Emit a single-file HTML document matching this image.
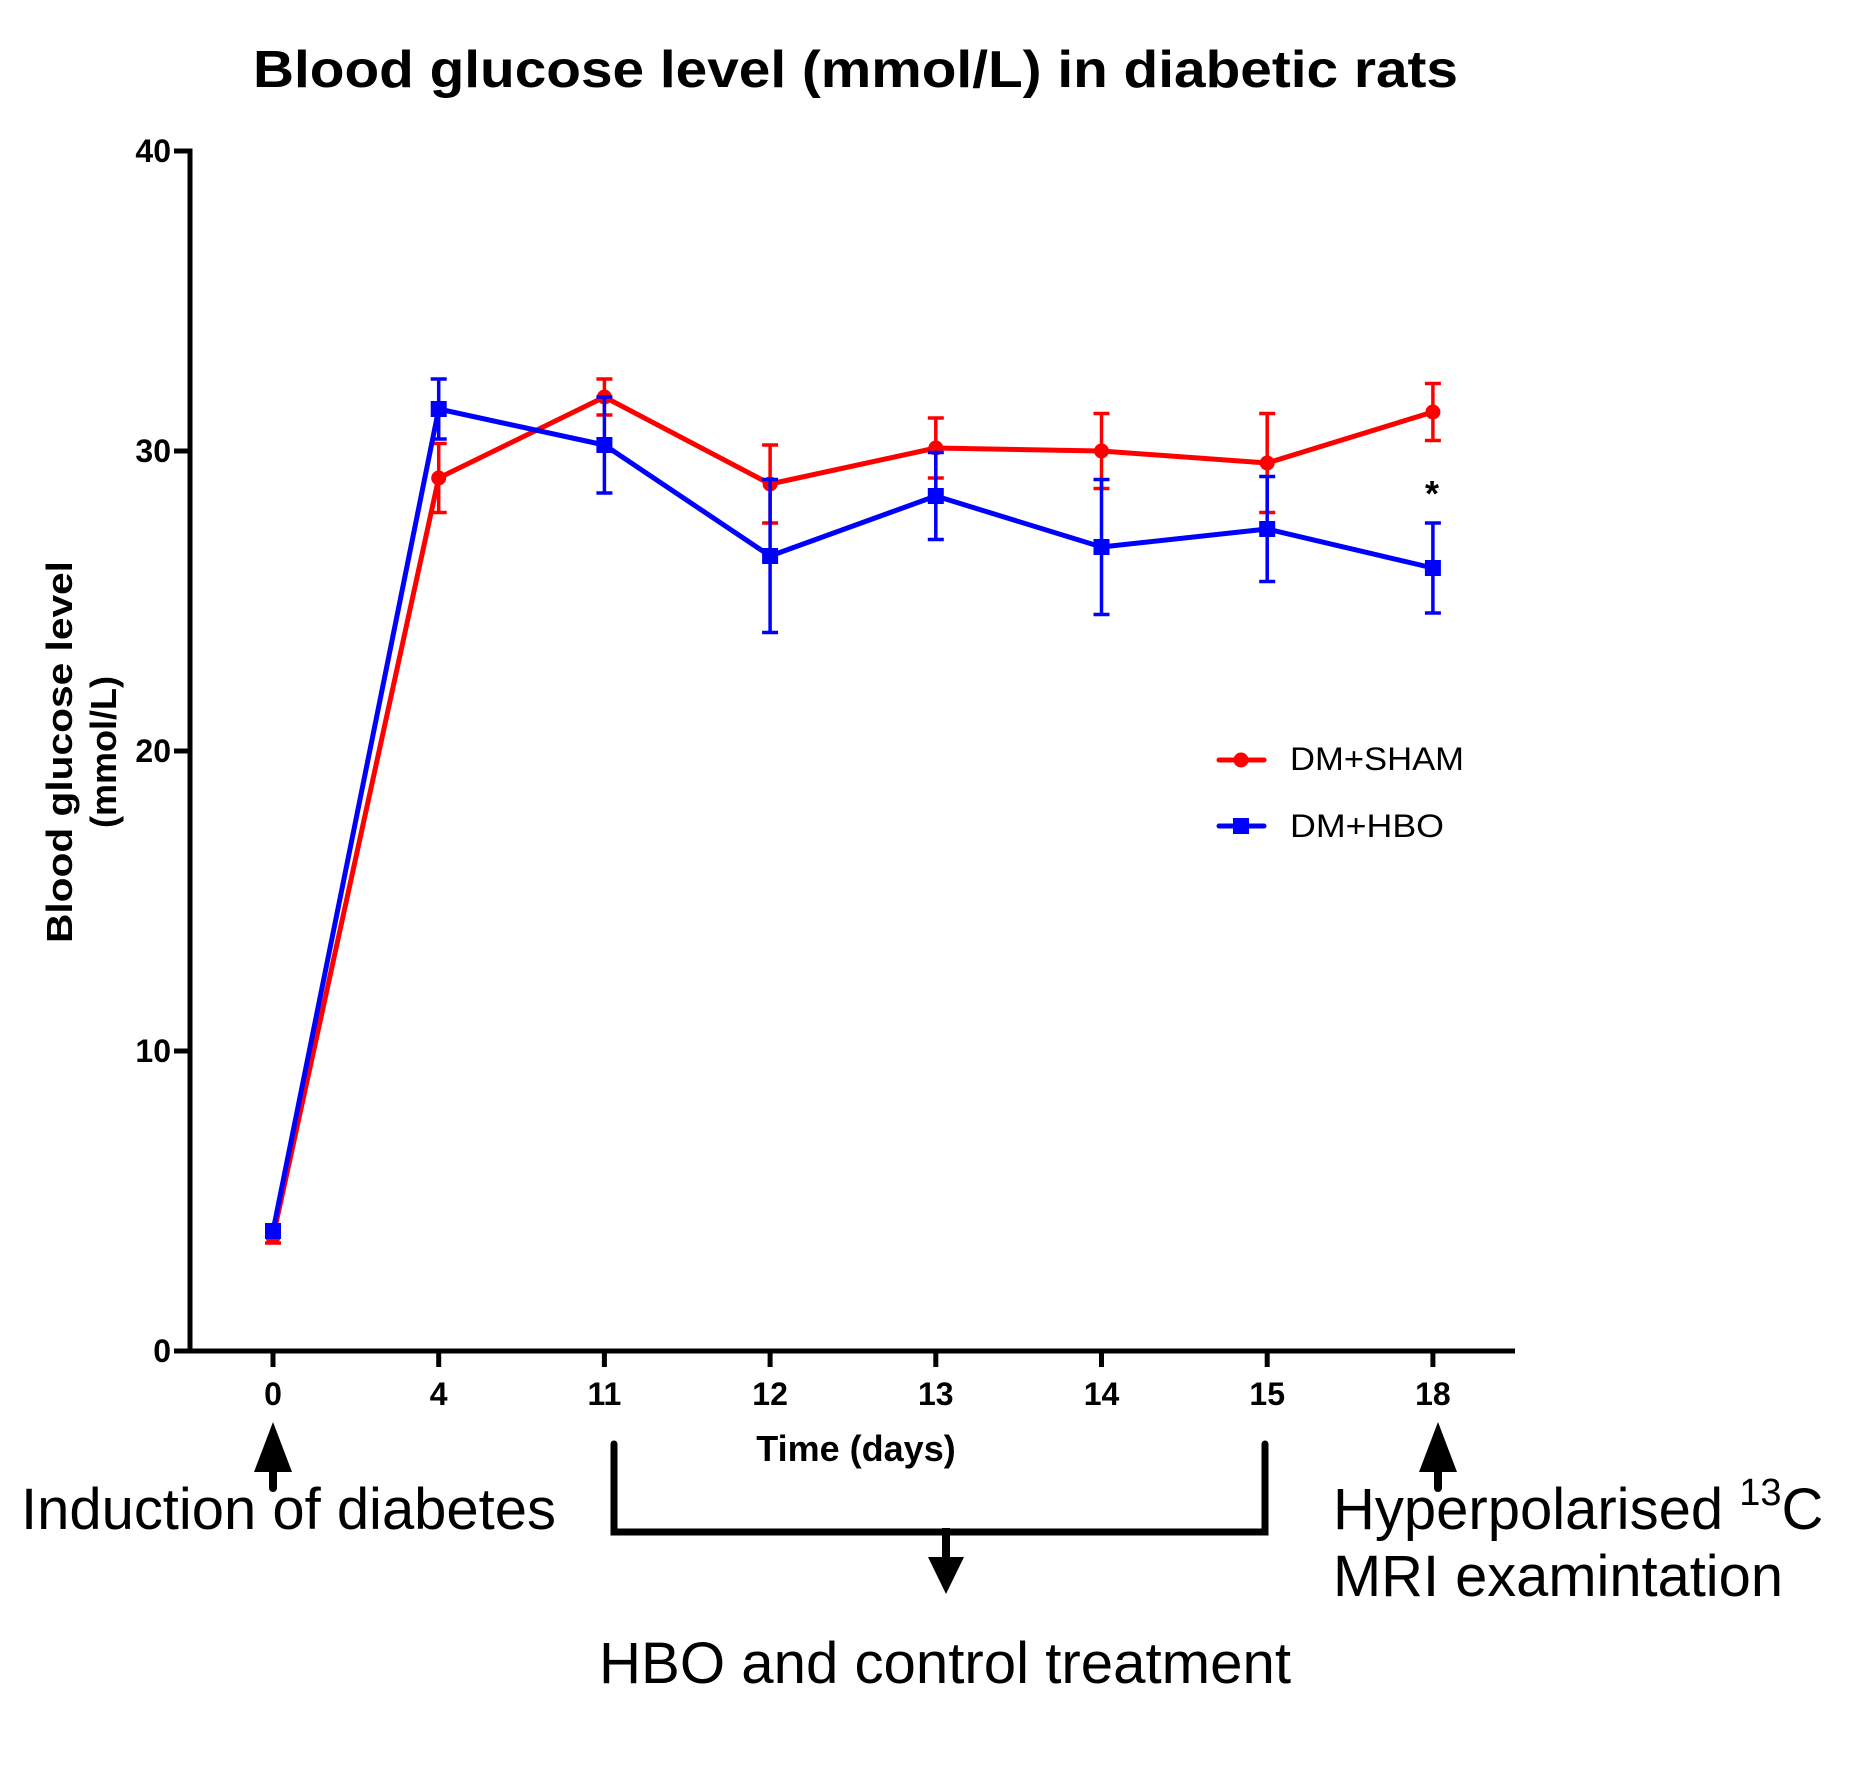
<!DOCTYPE html>
<html><head><meta charset="utf-8">
<style>html,body{margin:0;padding:0;background:#fff;}svg{display:block;}</style>
</head><body>
<svg id="chart" width="1863" height="1784" viewBox="0 0 1863 1784" xmlns="http://www.w3.org/2000/svg" font-family="Liberation Sans, Arial, sans-serif">
<rect width="1863" height="1784" fill="#fff"/>
<text x="253" y="87" font-size="52" font-weight="bold" textLength="1205" lengthAdjust="spacingAndGlyphs">Blood glucose level (mmol/L) in diabetic rats</text>
<g transform="translate(72,752) rotate(-90)" font-weight="bold" font-size="36" text-anchor="middle">
<text x="0" y="0" textLength="382" lengthAdjust="spacingAndGlyphs">Blood glucose level</text>
<text x="0" y="44">(mmol/L)</text>
</g>
<g id="axes"></g>
<g id="series"></g>
<text x="856" y="1461" font-size="36" font-weight="bold" text-anchor="middle">Time (days)</text>
<text x="1432" y="506" font-size="36" font-weight="bold" text-anchor="middle">*</text>
<g>
<g>
<line x1="1219" y1="760" x2="1264" y2="760" stroke="#f00" stroke-width="5" stroke-linecap="round"/>
<circle cx="1241" cy="760" r="7.5" fill="#f00"/>
<text x="1290" y="770" font-size="32" textLength="174" lengthAdjust="spacingAndGlyphs">DM+SHAM</text>
</g>
<g>
<line x1="1219" y1="826" x2="1264" y2="826" stroke="#00f" stroke-width="5" stroke-linecap="round"/>
<rect x="1233" y="818" width="16" height="16" fill="#00f"/>
<text x="1290" y="837" font-size="32" textLength="154" lengthAdjust="spacingAndGlyphs">DM+HBO</text>
</g>
</g>
<g fill="#000">
<g>
<polygon points="273,1422 254,1472 292,1472"/>
<line x1="273" y1="1467" x2="273" y2="1488" stroke="#000" stroke-width="8" stroke-linecap="round"/>
</g>
<text x="21" y="1529" font-size="58" textLength="535" lengthAdjust="spacingAndGlyphs">Induction of diabetes</text>
<path d="M614,1444 L614,1532 L1265,1532 L1265,1444" fill="none" stroke="#000" stroke-width="7" stroke-linecap="round" stroke-linejoin="miter"/>
<g>
<line x1="946" y1="1528" x2="946" y2="1562" stroke="#000" stroke-width="8"/>
<polygon points="946,1594 928,1557 964,1557"/>
</g>
<text x="599" y="1683" font-size="58" textLength="692" lengthAdjust="spacingAndGlyphs">HBO and control treatment</text>
<g>
<polygon points="1438,1422 1419,1472 1457,1472"/>
<line x1="1438" y1="1467" x2="1438" y2="1488" stroke="#000" stroke-width="8" stroke-linecap="round"/>
</g>
<text x="1333" y="1529" font-size="58">Hyperpolarised <tspan font-size="38" dy="-24">13</tspan><tspan dy="24">C</tspan></text>
<text x="1333" y="1596" font-size="58" textLength="450" lengthAdjust="spacingAndGlyphs">MRI examintation</text>
</g>
</svg>
<script>
const categories = ["0","4","11","12","13","14","15","18"];
const shamValues = [3.8, 29.1, 31.8, 28.9, 30.1, 30.0, 29.6, 31.3];
const shamErrors = [0.2, 1.15, 0.6, 1.3, 1.0, 1.25, 1.65, 0.95];
const hboValues = [4.0, 31.4, 30.2, 26.5, 28.5, 26.8, 27.4, 26.1];
const hboErrors = [0.2, 1.0, 1.6, 2.55, 1.45, 2.25, 1.75, 1.5];
const yTicks = [0, 10, 20, 30, 40];

const NS = "http://www.w3.org/2000/svg";
const X0 = 273, XSTEP = 165.7, AX = 190, AY = 1351, AXR = 1515;
function xPos(i){ return X0 + i*XSTEP; }
function yPos(v){ return AY - (v/40)*(AY-151); }
function mk(tag, attrs, parent){
  const e = document.createElementNS(NS, tag);
  for (const k in attrs) e.setAttribute(k, attrs[k]);
  parent.appendChild(e); return e;
}
const axes = document.getElementById('axes');
let l = mk('line',{x1:AX,y1:151-2.5,x2:AX,y2:AY+2.5,stroke:'#000','stroke-width':5},axes);


l = mk('line',{x1:AX-2.5,y1:AY,x2:AXR,y2:AY,stroke:'#000','stroke-width':5},axes);


yTicks.forEach(v=>{
  const y = yPos(v);
  const t = mk('line',{x1:AX-16,y1:y,x2:AX,y2:y,stroke:'#000','stroke-width':5},axes);
  
  
  const tx = mk('text',{x:AX-19,y:y+11,'font-size':32,'font-weight':'bold','text-anchor':'end'},axes);
  tx.textContent = v;
  
  
});
categories.forEach((c,i)=>{
  const x = xPos(i);
  const t = mk('line',{x1:x,y1:AY,x2:x,y2:AY+16,stroke:'#000','stroke-width':5},axes);
  
  
  const tx = mk('text',{x:x,y:1405,'font-size':32,'font-weight':'bold','text-anchor':'middle'},axes);
  tx.textContent = c;
  
  
});
const series = document.getElementById('series');
function drawSeries(vals, errs, color, shape, name){
  const g = mk('g',{},series);
  
  
  vals.forEach((v,i)=>{
    const x = xPos(i), yt = yPos(v+errs[i]), yb = yPos(v-errs[i]);
    const e = mk('path',{d:`M${x},${yt}L${x},${yb}M${x-8},${yt}L${x+8},${yt}M${x-8},${yb}L${x+8},${yb}`,stroke:color,'stroke-width':3.5,fill:'none'},g);
    
    
  });
  const pts = vals.map((v,i)=>xPos(i)+','+yPos(v)).join(' ');
  const pl = mk('polyline',{points:pts,fill:'none',stroke:color,'stroke-width':5,'stroke-linejoin':'round'},g);
  
  
  vals.forEach((v,i)=>{
    let m;
    if (shape==='circle') m = mk('circle',{cx:xPos(i),cy:yPos(v),r:7.5,fill:color},g);
    else m = mk('rect',{x:xPos(i)-8,y:yPos(v)-8,width:16,height:16,fill:color},g);
    
    
  });
}
drawSeries(shamValues, shamErrors, '#f00', 'circle', 'series-dm-sham');
drawSeries(hboValues, hboErrors, '#00f', 'square', 'series-dm-hbo');
</script>
</body></html>
